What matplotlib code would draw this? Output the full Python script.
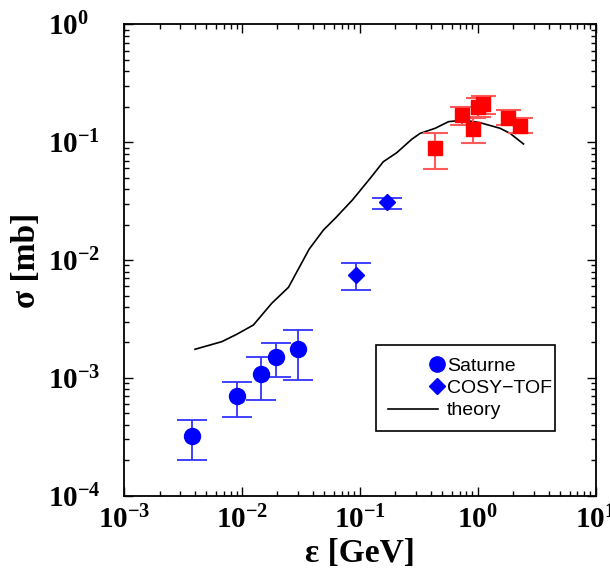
import numpy as np
import matplotlib
matplotlib.use("Agg")
import matplotlib.pyplot as plt
from matplotlib.lines import Line2D
from matplotlib.legend_handler import HandlerLine2D

# Saturne data (circles)
sat_e = [0.00378, 0.00903, 0.0144, 0.0195, 0.0299]
sat_s = [3.19e-4, 6.98e-4, 1.07e-3, 1.51e-3, 1.76e-3]
sat_hi = [4.39e-4, 9.2e-4, 1.50e-3, 1.99e-3, 2.57e-3]
sat_lo = [2.0e-4, 4.66e-4, 6.5e-4, 1.01e-3, 9.6e-4]

# COSY-TOF data (diamonds)
cosy_e = [0.0923, 0.171]
cosy_s = [7.43e-3, 0.0313]
cosy_hi = [9.4e-3, 0.0339]
cosy_lo = [5.57e-3, 0.0272]

# higher energy data (red squares)
red_e = [0.435, 0.731, 0.918, 1.012, 1.116, 1.80, 2.28]
red_s = [0.0895, 0.1706, 0.129, 0.198, 0.211, 0.160, 0.138]
red_hi = [0.119, 0.1995, 0.160, 0.236, 0.249, 0.188, 0.160]
red_lo = [0.0597, 0.139, 0.099, 0.163, 0.173, 0.140, 0.121]

# theory curve
th_e = [0.0040, 0.00675, 0.0090, 0.0125, 0.0179, 0.0248, 0.0371, 0.0491,
        0.0617, 0.0865, 0.1222, 0.158, 0.2056, 0.275, 0.324, 0.435, 0.564,
        0.755, 1.045, 1.545, 1.88, 2.44]
th_s = [1.75e-3, 2.03e-3, 2.34e-3, 2.81e-3, 4.3e-3, 5.87e-3, 0.01236, 0.0180,
        0.0226, 0.0324, 0.0494, 0.0684, 0.0816, 0.106, 0.119, 0.1315, 0.1496,
        0.1546, 0.1467, 0.1315, 0.119, 0.0968]

plt.rcParams['font.family'] = 'Liberation Serif'
plt.rcParams['font.weight'] = 'bold'
plt.rcParams['axes.labelweight'] = 'bold'
plt.rcParams['mathtext.default'] = 'regular'

fig = plt.figure(figsize=(6.10, 5.71), dpi=100)
ax = fig.add_axes([0.2033, 0.1319, 0.7733, 0.8252])


def errs(v, lo, hi):
    v = np.array(v)
    return [v - np.array(lo), np.array(hi) - v]


ax.plot(th_e, th_s, color='black', lw=1.2, zorder=2)

ax.errorbar(red_e, red_s, yerr=errs(red_s, red_lo, red_hi), fmt='s',
            color='#ff0000', ecolor='#ff5a5a', ms=10, capsize=9, elinewidth=1.5,
            capthick=1.5, zorder=3)
ax.errorbar(sat_e, sat_s, yerr=errs(sat_s, sat_lo, sat_hi), fmt='o',
            color='#0000ff', ecolor='#3333ff', ms=11.5, capsize=10.5, elinewidth=1.3,
            capthick=1.3, zorder=3)
ax.errorbar(cosy_e, cosy_s, yerr=errs(cosy_s, cosy_lo, cosy_hi), fmt='D',
            color='#0000ff', ecolor='#3333ff', ms=8.5, capsize=10.5, elinewidth=1.3,
            capthick=1.3, zorder=3)

ax.set_xscale('log')
ax.set_yscale('log')
ax.set_xlim(1e-3, 10)
ax.set_ylim(1e-4, 1)

for s in ax.spines.values():
    s.set_linewidth(1.3)
ax.tick_params(which='both', direction='in', top=True, right=True, width=1.0)
ax.tick_params(which='major', length=6.5)
ax.tick_params(which='minor', length=3.5)
ax.tick_params(axis='x', which='major', pad=7, labelsize=21)
ax.tick_params(axis='y', which='major', pad=55, labelsize=21)
for t in ax.get_yticklabels():
    t.set_horizontalalignment('left')

ax.set_xlabel('ε [GeV]', fontsize=24, labelpad=3)
ax.set_ylabel('σ [mb]', fontsize=24, labelpad=4)


class RightMarker(HandlerLine2D):
    # put the single marker at the right end of the handle
    def get_xdata(self, legend, xdescent, ydescent, width, height, fontsize):
        x = width - xdescent - 1
        return [x - 1, x + 1], [x]


h_sat = Line2D([], [], ls='none', marker='o', ms=11, color='#0000ff')
h_cosy = Line2D([], [], ls='none', marker='D', ms=8.5, color='#0000ff')
h_th = Line2D([], [], color='black', lw=1.2)
leg = ax.legend([h_sat, h_cosy, h_th], ['Saturne', 'COSY\u2212TOF', 'theory'],
                loc='lower left', bbox_to_anchor=(0.534, 0.137, 0.38, 0.187),
                mode='expand', fancybox=False, framealpha=1, edgecolor='black',
                prop={'family': 'Liberation Sans', 'weight': 'normal', 'size': 14},
                handlelength=2.6, handletextpad=0.45, borderpad=0.6,
                borderaxespad=0, labelspacing=0.25,
                handler_map={h_sat: RightMarker(), h_cosy: RightMarker()})
leg.get_frame().set_linewidth(1.2)

fig.savefig('out.png', dpi=100)
